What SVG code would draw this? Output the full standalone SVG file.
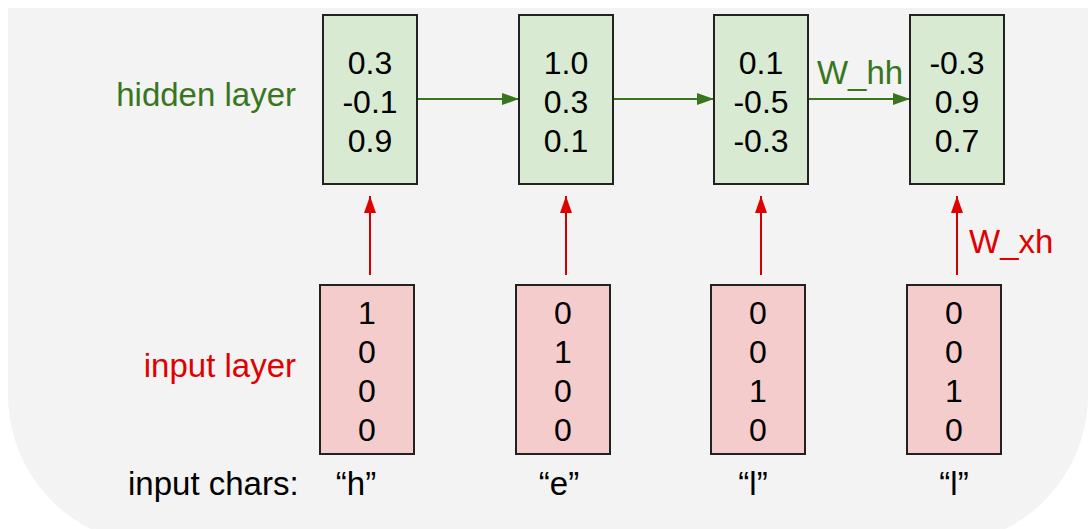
<svg xmlns="http://www.w3.org/2000/svg" width="1088" height="529" viewBox="0 0 1088 529">
<style>
text{font-family:"Liberation Sans",Arial,sans-serif;}
.num{font-size:32px;fill:#000;text-anchor:middle;}
.lbl{font-size:33px;}
.hid{fill:#d9ead3;stroke:#222;stroke-width:2;}
.inp{fill:#f4cccc;stroke:#222;stroke-width:2;}
.g{stroke:#38761d;stroke-width:2;fill:none;}
.r{stroke:#cc0000;stroke-width:2;fill:none;}
</style>
<defs>
<marker id="ag" markerWidth="17" markerHeight="12" refX="17" refY="6" orient="auto" markerUnits="userSpaceOnUse"><path d="M0,0 L17,6 L0,12 Z" fill="#38761d"/></marker>
<marker id="ar" markerWidth="17" markerHeight="12" refX="17" refY="6" orient="auto" markerUnits="userSpaceOnUse"><path d="M0,0 L17,6 L0,12 Z" fill="#e00000"/></marker>
</defs>
<rect width="1088" height="529" fill="#ffffff"/>
<path d="M8,8 H1088 V395 A150,150 0 0 1 938,545 H158 A150,150 0 0 1 8,395 Z" fill="#f3f3f3"/>
<text class="lbl" x="296" y="106" text-anchor="end" fill="#38761d">hidden layer</text>
<text class="lbl" x="296" y="377" text-anchor="end" fill="#e00000">input layer</text>
<text class="lbl" x="128" y="495" fill="#000">input chars:</text>
<g id="connectors">
<line class="g" x1="417" y1="99" x2="519" y2="99" marker-end="url(#ag)"/>
<line class="g" x1="613" y1="99" x2="714" y2="99" marker-end="url(#ag)"/>
<line class="g" x1="808" y1="99" x2="910" y2="99" marker-end="url(#ag)"/>
<line class="r" x1="370" y1="275" x2="370" y2="196" marker-end="url(#ar)"/>
<line class="r" x1="566" y1="275" x2="566" y2="196" marker-end="url(#ar)"/>
<line class="r" x1="761" y1="275" x2="761" y2="196" marker-end="url(#ar)"/>
<line class="r" x1="957" y1="275" x2="957" y2="196" marker-end="url(#ar)"/>
<text class="lbl" x="860" y="84" text-anchor="middle" fill="#38761d">W_hh</text>
<text class="lbl" x="969" y="253" fill="#e00000">W_xh</text>
</g>
<g id="h1"><rect class="hid" x="323" y="15" width="94" height="169"/><text class="num" x="370" y="74">0.3</text><text class="num" x="370" y="113">-0.1</text><text class="num" x="370" y="152">0.9</text></g>
<g id="h2"><rect class="hid" x="519" y="15" width="94" height="169"/><text class="num" x="566" y="74">1.0</text><text class="num" x="566" y="113">0.3</text><text class="num" x="566" y="152">0.1</text></g>
<g id="h3"><rect class="hid" x="714" y="15" width="94" height="169"/><text class="num" x="761" y="74">0.1</text><text class="num" x="761" y="113">-0.5</text><text class="num" x="761" y="152">-0.3</text></g>
<g id="h4"><rect class="hid" x="910" y="15" width="94" height="169"/><text class="num" x="957" y="74">-0.3</text><text class="num" x="957" y="113">0.9</text><text class="num" x="957" y="152">0.7</text></g>
<g id="x1"><rect class="inp" x="320" y="285" width="94" height="169"/><text class="num" x="367" y="324">1</text><text class="num" x="367" y="363">0</text><text class="num" x="367" y="402">0</text><text class="num" x="367" y="441">0</text></g>
<g id="x2"><rect class="inp" x="516" y="285" width="94" height="169"/><text class="num" x="563" y="324">0</text><text class="num" x="563" y="363">1</text><text class="num" x="563" y="402">0</text><text class="num" x="563" y="441">0</text></g>
<g id="x3"><rect class="inp" x="711" y="285" width="94" height="169"/><text class="num" x="758" y="324">0</text><text class="num" x="758" y="363">0</text><text class="num" x="758" y="402">1</text><text class="num" x="758" y="441">0</text></g>
<g id="x4"><rect class="inp" x="907" y="285" width="94" height="169"/><text class="num" x="954" y="324">0</text><text class="num" x="954" y="363">0</text><text class="num" x="954" y="402">1</text><text class="num" x="954" y="441">0</text></g>
<g id="c1"><text class="lbl" x="356" y="495" text-anchor="middle" fill="#000">“h”</text></g>
<g id="c2"><text class="lbl" x="559" y="495" text-anchor="middle" fill="#000">“e”</text></g>
<g id="c3"><text class="lbl" x="753" y="495" text-anchor="middle" fill="#000">“l”</text></g>
<g id="c4"><text class="lbl" x="954" y="495" text-anchor="middle" fill="#000">“l”</text></g>
</svg>
